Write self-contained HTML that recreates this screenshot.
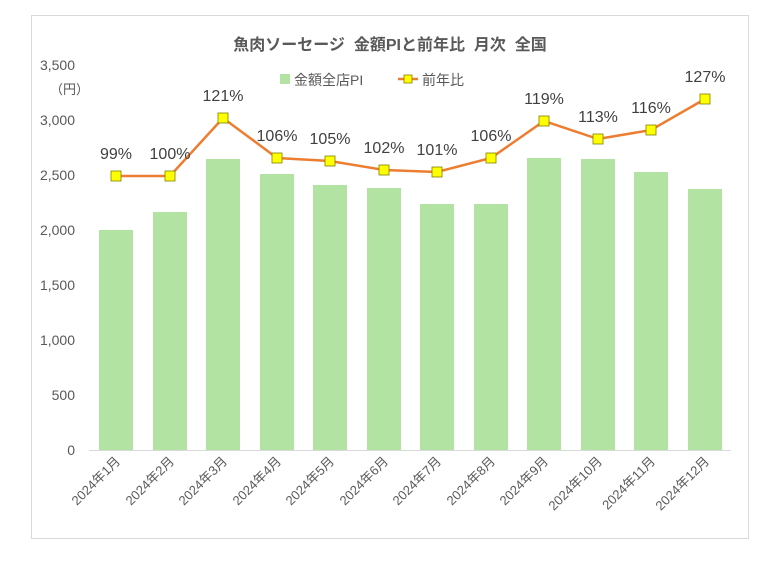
<!DOCTYPE html>
<html><head><meta charset="utf-8"><style>
body{margin:0;background:#fff;}
text{font-family:"Liberation Sans","Noto Sans CJK JP",sans-serif;}
</style></head><body>
<svg width="781" height="569" xmlns="http://www.w3.org/2000/svg">
<rect x="0" y="0" width="781" height="569" fill="#fff"/>
<rect x="31.5" y="15.5" width="717" height="523" fill="#fff" stroke="#d9d9d9"/>
<text x="390" y="50" text-anchor="middle" font-size="16" font-weight="bold" fill="#595959">魚肉ソーセージ&#160;&#160;金額PIと前年比&#160;&#160;月次&#160;&#160;全国</text>
<g font-size="14" fill="#595959" text-anchor="end">
<text x="75" y="455">0</text>
<text x="75" y="400">500</text>
<text x="75" y="345">1,000</text>
<text x="75" y="290">1,500</text>
<text x="75" y="235">2,000</text>
<text x="75" y="180">2,500</text>
<text x="75" y="125">3,000</text>
<text x="75" y="70">3,500</text>
</g>
<text x="50" y="94" font-size="13" fill="#595959">（円）</text>
<line x1="89" y1="450.5" x2="731" y2="450.5" stroke="#d9d9d9"/>
<rect x="280" y="74" width="10" height="10" fill="#b3e3a2"/>
<text x="294" y="85" font-size="14" fill="#595959">金額全店PI</text>
<line x1="398" y1="79" x2="418" y2="79" stroke="#ed7d31" stroke-width="2.5"/>
<rect x="404" y="75" width="8" height="8" fill="#ffff00" stroke="#7f7f00" stroke-width="0.8"/>
<text x="422" y="85" font-size="14" fill="#595959">前年比</text>
<g fill="#b3e3a2">
<rect x="99" y="230" width="34" height="220"/>
<rect x="153" y="212" width="34" height="238"/>
<rect x="206" y="159" width="34" height="291"/>
<rect x="260" y="174" width="34" height="276"/>
<rect x="313" y="185" width="34" height="265"/>
<rect x="367" y="188" width="34" height="262"/>
<rect x="420" y="204" width="34" height="246"/>
<rect x="474" y="204" width="34" height="246"/>
<rect x="527" y="158" width="34" height="292"/>
<rect x="581" y="159" width="34" height="291"/>
<rect x="634" y="172" width="34" height="278"/>
<rect x="688" y="189" width="34" height="261"/>
</g>
<polyline fill="none" stroke="#ed7d31" stroke-width="2.5" points="116,176 170,176 223,118 277,158 330,161 384,170 437,172 491,158 544,121 598,139 651,130 705,99"/>
<g fill="#ffff00" stroke="#7f7f00" stroke-width="0.8">
<rect x="111" y="171" width="10" height="10"/><rect x="165" y="171" width="10" height="10"/>
<rect x="218" y="113" width="10" height="10"/><rect x="272" y="153" width="10" height="10"/>
<rect x="325" y="156" width="10" height="10"/><rect x="379" y="165" width="10" height="10"/>
<rect x="432" y="167" width="10" height="10"/><rect x="486" y="153" width="10" height="10"/>
<rect x="539" y="116" width="10" height="10"/><rect x="593" y="134" width="10" height="10"/>
<rect x="646" y="125" width="10" height="10"/><rect x="700" y="94" width="10" height="10"/>
</g>
<g font-size="16" fill="#404040" text-anchor="middle">
<text x="116" y="159">99%</text><text x="170" y="159">100%</text>
<text x="223" y="101">121%</text><text x="277" y="141">106%</text>
<text x="330" y="144">105%</text><text x="384" y="153">102%</text>
<text x="437" y="155">101%</text><text x="491" y="141">106%</text>
<text x="544" y="104">119%</text><text x="598" y="122">113%</text>
<text x="651" y="113">116%</text><text x="705" y="82">127%</text>
</g>
<g font-size="13" fill="#595959" text-anchor="end">
<text transform="translate(121,462) rotate(-45)">2024年1月</text>
<text transform="translate(175,462) rotate(-45)">2024年2月</text>
<text transform="translate(228,462) rotate(-45)">2024年3月</text>
<text transform="translate(282,462) rotate(-45)">2024年4月</text>
<text transform="translate(335,462) rotate(-45)">2024年5月</text>
<text transform="translate(389,462) rotate(-45)">2024年6月</text>
<text transform="translate(442,462) rotate(-45)">2024年7月</text>
<text transform="translate(496,462) rotate(-45)">2024年8月</text>
<text transform="translate(549,462) rotate(-45)">2024年9月</text>
<text transform="translate(603,462) rotate(-45)">2024年10月</text>
<text transform="translate(656,462) rotate(-45)">2024年11月</text>
<text transform="translate(710,462) rotate(-45)">2024年12月</text>
</g>
</svg>
</body></html>
